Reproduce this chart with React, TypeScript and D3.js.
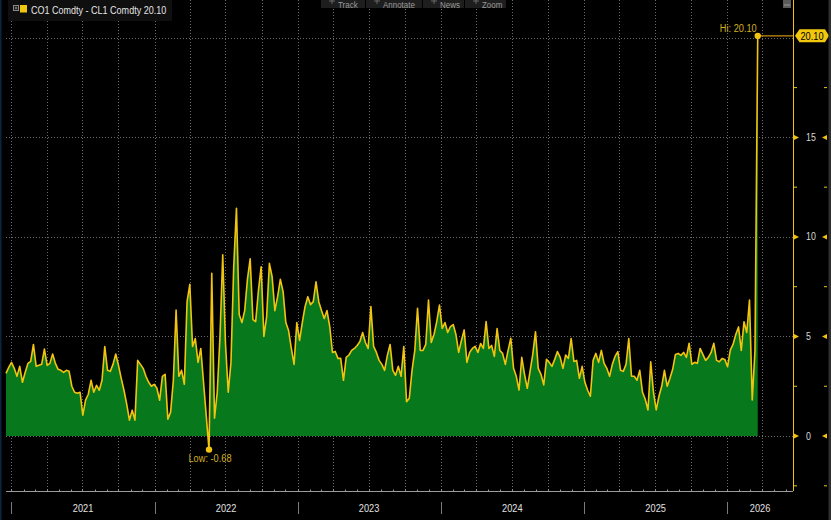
import React from "react";
import * as d3 from "d3";

// Weekly observations of CO1 Comdty - CL1 Comdty (Brent - WTI spread), starting 2020-12-18
const startDate = new Date(2020, 11, 18);
const values2020 = [3.15, 3.45];
const values2021 = [3.7, 3.4, 3.0, 3.5, 2.7, 3.2, 3.65, 3.75, 4.6, 3.5, 3.55, 3.6, 4.37, 3.55, 3.65, 4.12, 3.65, 3.35, 3.3, 3.2, 3.3, 3.25, 2.5, 2.2, 2.15, 2.2, 1.05, 1.8, 2.1, 2.8, 2.2, 2.55, 2.3, 2.8, 4.5, 3.3, 3.25, 3.6, 4.12, 3.55, 2.9, 2.3, 1.6, 0.8, 1.3, 0.8, 3.8, 3.6, 3.4, 3.0, 2.7, 2.5, 2.6];
const values2022 = [2.4, 1.8, 3.0, 3.1, 0.85, 1.2, 2.8, 6.33, 3.0, 3.3, 2.6, 6.75, 7.62, 4.5, 4.9, 3.7, 4.4, 2.7, 1.0, -0.68, 8.17, 0.9, 2.2, 5.0, 9.1, 4.65, 2.2, 3.7, 8.5, 11.44, 6.1, 5.7, 6.3, 7.87, 8.9, 5.85, 5.75, 7.3, 8.5, 5.0, 6.0, 8.67, 8.0, 6.3, 7.0, 7.87, 7.25, 5.7, 5.3, 4.4, 3.6, 5.7];
const values2023 = [4.8, 5.7, 6.5, 7.0, 6.6, 6.75, 7.75, 6.75, 6.3, 5.9, 6.3, 5.5, 4.2, 4.25, 3.9, 3.9, 2.8, 3.95, 4.07, 4.3, 4.4, 4.55, 4.75, 5.2, 4.7, 4.4, 6.5, 4.5, 4.2, 3.8, 3.6, 3.3, 4.05, 4.6, 3.3, 3.05, 3.5, 3.0, 4.5, 1.72, 1.9, 3.3, 4.3, 6.42, 4.3, 4.3, 4.6, 6.83, 4.7, 5.1, 5.75, 6.58];
const values2024 = [5.4, 5.7, 5.2, 5.5, 5.6, 5.1, 4.2, 4.8, 5.33, 3.7, 4.2, 4.4, 4.5, 4.2, 4.65, 4.4, 5.75, 4.4, 4.55, 4.0, 5.4, 4.3, 4.15, 3.6, 4.3, 4.91, 3.4, 3.0, 2.31, 3.95, 3.1, 2.4, 3.23, 4.1, 5.24, 3.4, 3.1, 2.57, 3.85, 3.7, 3.5, 3.85, 4.24, 3.95, 3.4, 4.07, 3.9, 4.9, 3.75, 3.8, 2.9, 3.5];
const values2025 = [2.7, 2.3, 2.0, 3.8, 4.15, 3.7, 4.3, 3.65, 3.4, 3.0, 3.6, 4.0, 4.24, 3.3, 3.25, 3.6, 4.9, 3.0, 3.0, 2.8, 3.3, 2.2, 1.85, 1.31, 3.73, 2.2, 1.31, 2.0, 2.5, 3.3, 2.5, 2.9, 3.35, 4.1, 4.15, 4.05, 4.2, 3.95, 4.66, 3.6, 3.7, 3.65, 4.4, 4.1, 3.8, 3.95, 4.2, 4.66, 3.8, 3.73, 3.9, 3.85];
const values2026 = [3.48, 4.32, 4.6, 5.1, 5.48, 4.3, 5.74, 5.2, 6.83, 1.81, 4.3, 20.1];

const yMajorTicks = [0, 5, 10, 15];
const yGridTicks = [0, 5, 10, 15, 20];
const yMinorTicks = [-2.5, 2.5, 7.5, 12.5, 17.5];
const toolbarItems = ["Track", "Annotate", "News", "Zoom"];
const legendLabel = "CO1 Comdty - CL1 Comdty";

const FONT = "'Liberation Sans', Arial, sans-serif";
const fmt = (v: number) => d3.format(".2f")(v).replace("\u2212", "-");

type TProps = {
  x: number;
  y: number;
  size: number;
  fill: string;
  anchor?: "start" | "middle" | "end";
  sx?: number;
  children: React.ReactNode;
};
function T({ x, y, size, fill, anchor = "start", sx = 0.84, children }: TProps) {
  return (
    <text
      transform={`translate(${x},${y}) scale(${sx},1)`}
      textAnchor={anchor}
      fill={fill}
      fontSize={size}
      fontFamily={FONT}
    >
      {children}
    </text>
  );
}

export default function App() {
  const W = 831;
  const H = 520;
  const plotLeft = 6;
  const plotRight = 793;
  const plotBottom = 491;

  const allValues = [...values2020, ...values2021, ...values2022, ...values2023, ...values2024, ...values2025, ...values2026];
  const data = allValues.map((v, i) => ({ date: d3.timeDay.offset(startDate, 7 * i), v }));

  const x = d3.scaleTime().domain([startDate, new Date(2026, 5, 18)]).range([plotLeft, plotRight]);
  const y = d3.scaleLinear().domain([-2.76, 21.9]).range([plotBottom, 0]);

  const area = d3
    .area<{ date: Date; v: number }>()
    .x((d) => x(d.date))
    .y0(y(0))
    .y1((d) => y(d.v));
  const line = d3
    .line<{ date: Date; v: number }>()
    .x((d) => x(d.date))
    .y((d) => y(d.v));

  const quarters = d3.timeMonth.every(3)!.range(new Date(2021, 0, 1), x.domain()[1]);
  const months = d3.timeMonth.range(new Date(2021, 0, 1), x.domain()[1]);
  const years = d3.timeYear.range(new Date(2021, 0, 1), x.domain()[1]);

  const hi = data.reduce((a, b) => (b.v > a.v ? b : a));
  const lo = data.reduce((a, b) => (b.v < a.v ? b : a));
  const last = data[data.length - 1];

  const hx = x(hi.date);
  const hy = y(hi.v);
  const lx = x(lo.date);
  const ly = y(lo.v);
  const lastY = y(last.v);

  const gridColor = "#6a6a6a";
  const yellow = "#f2c40f";

  const tbStarts = [321, 366, 423, 465];
  const tbWidths = [44, 56, 41, 41];

  return (
    <svg width={W} height={H} style={{ position: "absolute", left: 0, top: 0, background: "#000" }}>
      <defs>
        <clipPath id="posClip">
          <rect x={0} y={0} width={W} height={y(0)} />
        </clipPath>
      </defs>
      <rect x={0} y={0} width={W} height={H} fill="#000" />

      {/* grid */}
      {quarters.map((d, i) => (
        <line key={"q" + i} x1={Math.round(x(d)) + 0.5} x2={Math.round(x(d)) + 0.5} y1={0} y2={plotBottom} stroke={gridColor} strokeWidth={1} strokeDasharray="1,2" />
      ))}
      {yGridTicks.map((t) => (
        <line key={"h" + t} x1={plotLeft} x2={plotRight} y1={Math.round(y(t)) + 0.5} y2={Math.round(y(t)) + 0.5} stroke={gridColor} strokeWidth={1} strokeDasharray="1,2" />
      ))}

      {/* area and line */}
      <path d={area(data) || ""} fill="#07781b" clipPath="url(#posClip)" />
      <path d={line(data) || ""} fill="none" stroke={yellow} strokeWidth={1.6} strokeLinejoin="round" />

      {/* bottom axis */}
      <line x1={plotLeft} x2={plotRight} y1={plotBottom + 0.5} y2={plotBottom + 0.5} stroke="#9a9a9a" strokeWidth={1} />
      {months.map((d, i) => (
        <line key={"m" + i} x1={Math.round(x(d)) + 0.5} x2={Math.round(x(d)) + 0.5} y1={plotBottom - 1.5} y2={plotBottom} stroke="#9a9a9a" strokeWidth={1} />
      ))}
      {years.map((d, i) => {
        const x0 = x(d);
        const next = d3.timeYear.offset(d, 1);
        const x1 = Math.min(x(next), plotRight);
        return (
          <g key={"y" + i}>
            <line x1={Math.round(x0) + 0.5} x2={Math.round(x0) + 0.5} y1={502} y2={514} stroke="#7a7a7a" strokeWidth={1} />
            <T x={(x0 + x1) / 2} y={512} anchor="middle" fill="#e0e0e0" size={11}>
              {d3.timeFormat("%Y")(d)}
            </T>
          </g>
        );
      })}

      {/* right axis */}
      <line x1={plotRight + 0.5} x2={plotRight + 0.5} y1={0} y2={plotBottom} stroke={yellow} strokeWidth={1} />
      {yMajorTicks.map((t) => {
        const ty = y(t);
        return (
          <g key={"ym" + t}>
            <path d={`M${plotRight + 1},${ty - 2.5} L${plotRight + 6},${ty} L${plotRight + 1},${ty + 2.5} Z`} fill={yellow} />
            <path d={`M${827},${ty - 2.5} L${822},${ty} L${827},${ty + 2.5} Z`} fill={yellow} />
            <T x={806} y={ty + 3.5} fill="#d8d8d8" size={10.5}>
              {t}
            </T>
          </g>
        );
      })}
      {yMinorTicks.map((t) => (
        <g key={"yn" + t}>
          <line x1={plotRight + 1} x2={plotRight + 4} y1={y(t)} y2={y(t)} stroke={yellow} strokeWidth={1} />
          <line x1={824} x2={827} y1={y(t)} y2={y(t)} stroke={yellow} strokeWidth={1} />
        </g>
      ))}

      {/* hi marker */}
      <line x1={hx} x2={plotRight} y1={hy} y2={hy} stroke="#c98f12" strokeWidth={1.2} />
      <circle cx={hx} cy={hy} r={3.2} fill={yellow} />
      <T x={hx - 1} y={hy - 3.5} anchor="end" fill="#d3b021" size={11}>
        {"Hi: " + fmt(hi.v)}
      </T>
      <path
        d={`M${795},${lastY} L${799.5},${lastY - 6.5} L${825},${lastY - 6.5} L${829},${lastY} L${825},${lastY + 6.5} L${799.5},${lastY + 6.5} Z`}
        fill="#f2c80f"
      />
      <T x={812} y={lastY + 3.8} anchor="middle" fill="#000" size={11}>
        {fmt(last.v)}
      </T>

      {/* low marker */}
      <circle cx={lx} cy={ly} r={3.2} fill={yellow} />
      <T x={lx + 1} y={ly + 12.5} anchor="middle" fill="#d3b021" size={11}>
        {"Low: " + fmt(lo.v)}
      </T>

      {/* legend */}
      <rect x={8} y={0} width={164} height={21} fill="#0f0f0f" />
      <rect x={13.5} y={5.5} width={5} height={5} fill="none" stroke="#8a8a8a" strokeWidth={1} />
      <line x1={14.5} x2={17.5} y1={8} y2={8} stroke="#8a8a8a" />
      <line x1={16} x2={16} y1={6.5} y2={9.5} stroke="#8a8a8a" />
      <rect x={20} y={5} width={7} height={7.5} fill="#f2c80f" />
      <T x={31} y={13.5} fill="#e4e4e4" size={11} sx={0.82}>
        {legendLabel + " " + fmt(last.v)}
      </T>

      {/* toolbar */}
      {toolbarItems.map((label, i) => {
        const sx = tbStarts[i];
        return (
          <g key={label}>
            <rect x={sx} y={-3} width={tbWidths[i]} height={11} fill="#1e1e1e" />
            <path d={`M${sx + 8},${1} h6 M${sx + 11},${-2} v6`} stroke="#777" strokeWidth={0.8} />
            <T x={sx + 17} y={7.5} fill="#9a9a9a" size={9.5}>
              {label}
            </T>
          </g>
        );
      })}

      {/* top-right button & edges */}
      <rect x={783} y={0} width={8} height={8} fill="#5a5a5a" />
      <line x1={784} x2={790} y1={5} y2={5} stroke="#999" />
      <rect x={828.5} y={0} width={2.5} height={H} fill="#2e2e2e" />
      <rect x={0} y={0} width={1.5} height={H} fill="#0d2440" />
    </svg>
  );
}
